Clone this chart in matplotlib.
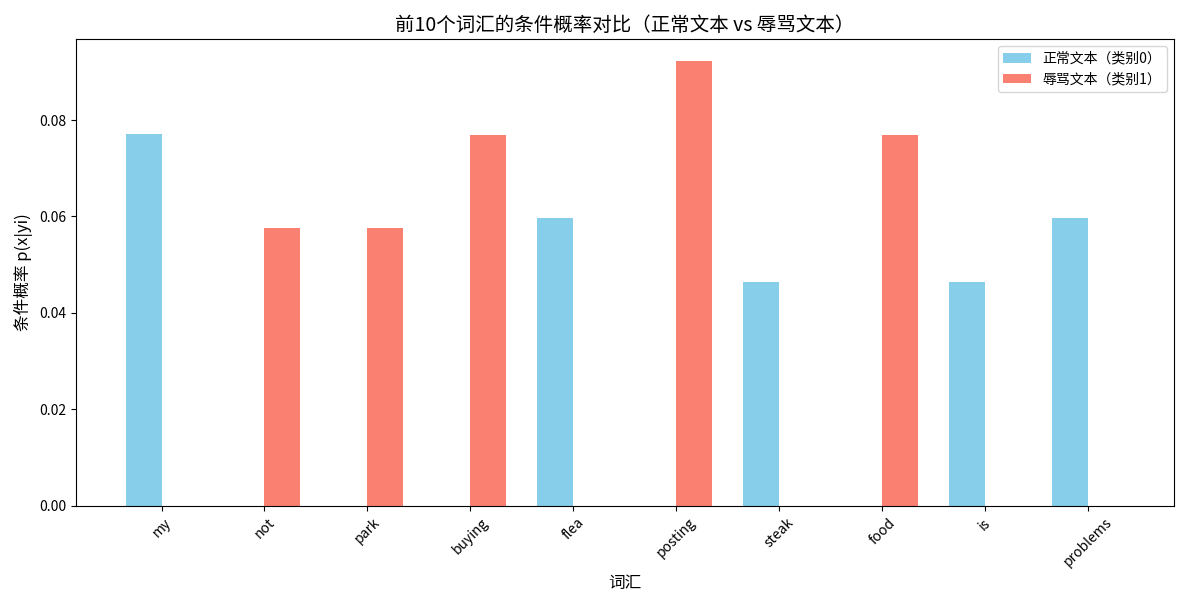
import numpy as np
import matplotlib.pyplot as plt

plt.rcParams['font.family'] = ['Noto Sans CJK SC', 'DejaVu Sans']
plt.rcParams['axes.unicode_minus'] = False

words = ['my', 'not', 'park', 'buying', 'flea', 'posting', 'steak', 'food', 'is', 'problems']
p0 = [0.0771, 0.0, 0.0, 0.0, 0.0597, 0.0, 0.0464, 0.0, 0.0464, 0.0597]
p1 = [0.0, 0.0576, 0.0576, 0.0769, 0.0, 0.0922, 0.0, 0.0769, 0.0, 0.0]

x = np.arange(len(words))
width = 0.35

fig, ax = plt.subplots(figsize=(12, 6), dpi=100)
ax.bar(x - width/2, p0, width, label='正常文本（类别0）', color='skyblue')
ax.bar(x + width/2, p1, width, label='辱骂文本（类别1）', color='salmon')

ax.set_xlabel('词汇', fontsize=12)
ax.set_ylabel('条件概率 p(x|yi)', fontsize=12)
ax.set_title('前10个词汇的条件概率对比（正常文本 vs 辱骂文本）', fontsize=14)
ax.set_xticks(x)
ax.set_xticklabels(words, rotation=45)
ax.legend()

# match the reference's tight_layout box
fig.subplots_adjust(left=0.063, right=0.978, top=0.935, bottom=0.157)
plt.savefig('out.png')
